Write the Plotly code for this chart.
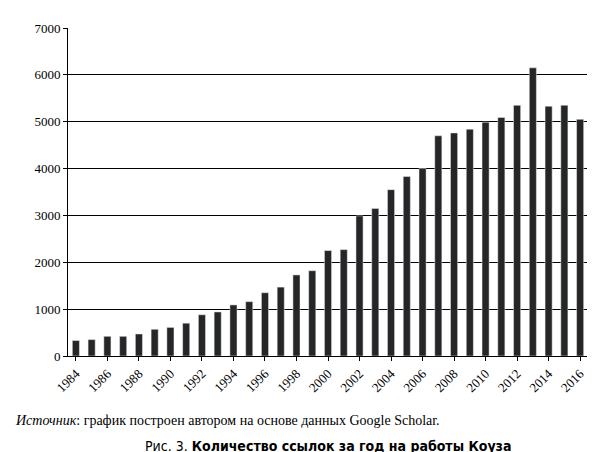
import plotly.graph_objects as go

years = list(range(1984, 2017))
citations = [330, 350, 420, 420, 470, 570, 610, 700, 880, 940, 1090, 1160, 1350, 1470,
             1730, 1820, 2250, 2270, 2990, 3150, 3550, 3830, 4000, 4700, 4760, 4840,
             4990, 5090, 5350, 6150, 5330, 5350, 5050]
tick_years = list(range(1984, 2017, 2))

fig = go.Figure(go.Bar(x=years, y=citations, marker_color="#262626", width=0.45))
fig.update_layout(
    width=595, height=452, paper_bgcolor="white", plot_bgcolor="white",
    margin=dict(l=60, r=15, t=20, b=104), showlegend=False,
    font=dict(family="Liberation Serif", size=13, color="black"),
)
fig.update_xaxes(tickmode="array", tickvals=tick_years, ticktext=[str(y) for y in tick_years],
                 tickangle=-45, range=[1983.5, 2016.5], showline=True, linecolor="black",
                 ticks="outside", ticklen=4, tickcolor="black")
fig.update_yaxes(range=[0, 7000], dtick=1000, showgrid=True, gridcolor="black", gridwidth=1,
                 showline=True, linecolor="black", ticks="outside", ticklen=4, tickcolor="black",
                 zeroline=False)
fig.add_annotation(x=0.0, y=0, xref="paper", yref="paper", xanchor="left", yanchor="top",
                   xshift=-55, yshift=-55, showarrow=False,
                   text="<i>Источник</i>: график построен автором на основе данных Google Scholar.",
                   font=dict(family="Liberation Serif", size=14))
fig.add_annotation(x=0.5, y=0, xref="paper", yref="paper", xanchor="center", yanchor="top",
                   yshift=-80, showarrow=False,
                   text="Рис. 3. <b>Количество ссылок за год на работы Коуза</b>",
                   font=dict(family="DejaVu Sans Condensed, Liberation Sans Narrow, Liberation Sans", size=14))
fig.write_html("out.html")
